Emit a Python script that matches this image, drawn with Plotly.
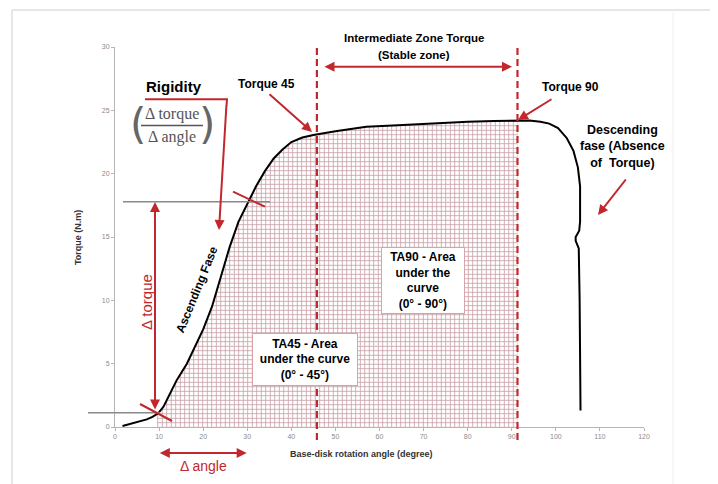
import numpy as np
import plotly.graph_objects as go

# ---- data ----
angle = [1.7, 4.0, 6.0, 7.2, 8.5, 9.8, 11.0, 12.5, 14.0, 16.3, 18.0, 20.0, 22.0, 24.0, 26.0, 28.0,
         30.0, 32.0, 34.0, 36.0, 38.0, 40.0, 42.5, 45.0, 50.0, 57.0, 63.0, 68.0, 74.0, 80.0, 86.0,
         91.0, 94.0, 96.5, 98.5, 100.5, 102.5, 104.0, 105.0, 105.5, 105.5, 105.3, 104.5, 104.5,
         105.2, 105.4, 105.5, 105.6]
torque = [0.08, 0.3, 0.5, 0.6, 0.8, 1.08, 1.6, 2.6, 3.7, 5.0, 6.3, 7.7, 9.5, 11.8, 14.2, 16.2,
          17.6, 19.0, 20.2, 21.2, 21.9, 22.5, 22.85, 23.05, 23.35, 23.7, 23.8, 23.9, 24.0, 24.1, 24.15,
          24.2, 24.2, 24.1, 23.95, 23.6, 22.8, 21.8, 20.5, 19.0, 16.2, 15.5, 15.0, 14.7,
          14.1, 10.0, 5.0, 1.3]

x_ticks = [0, 10, 20, 30, 40, 50, 60, 70, 80, 90, 100, 110, 120]
y_ticks = [0, 5, 10, 15, 20, 25, 30]

torque45_angle = 45.8
torque90_angle = 91.3
hatch_start = 9.5

RED = "#c0282d"
HATCH = "#8e3f4b"
FONT = "Liberation Sans"

OFF = 8  # default page margin of the html body
W, H = 718 - OFF, 484 - OFF
L, T = 115 - OFF, 47 - OFF
PW, PH = 529, 380
R, B = W - L - PW, H - T - PH


def xp(px):  # page pixel -> paper
    return (px - OFF - L) / PW


def yp(py):
    return (H - B - (py - OFF)) / PH


fig = go.Figure()

# hatched area under the curve (0 - 90 deg)
a = np.array(angle)
t = np.array(torque)
rising = a <= 95
ar, tr = a[rising], t[rising]
mask = (ar > hatch_start) & (ar < torque90_angle)
fx = [hatch_start] + list(ar[mask]) + [torque90_angle]
fy = [float(np.interp(hatch_start, ar, tr))] + list(tr[mask]) + [float(np.interp(torque90_angle, ar, tr))]
fig.add_trace(go.Scatter(
    x=fx, y=fy, mode="lines", line=dict(width=0), fill="tozeroy",
    fillcolor="rgba(0,0,0,0)",
    fillpattern=dict(shape="+", fgcolor=HATCH, bgcolor="white", size=4.5, solidity=0.33),
    hoverinfo="skip", showlegend=False))

# main torque curve
fig.add_trace(go.Scatter(x=angle, y=torque, mode="lines",
                         line=dict(color="black", width=2), showlegend=False))

shapes = []
for xv in (torque45_angle, torque90_angle):
    shapes.append(dict(type="line", xref="x", yref="paper", x0=xv, x1=xv,
                       y0=yp(440), y1=yp(44), line=dict(color=RED, width=2.2, dash="7px,4px")))
# frame
shapes.append(dict(type="rect", xref="paper", yref="paper", x0=xp(12), x1=xp(712),
                   y0=yp(500), y1=yp(10), line=dict(color="#cfcfcf", width=1), layer="below"))
shapes.append(dict(type="line", xref="paper", yref="paper", x0=xp(673), x1=xp(673),
                   y0=yp(500), y1=yp(10), line=dict(color="#f0f0f0", width=1), layer="below"))
# gray reference lines
shapes.append(dict(type="line", xref="paper", yref="paper", x0=xp(123), x1=xp(270),
                   y0=yp(201.7), y1=yp(201.7), line=dict(color="#8a8a8a", width=1.5)))
shapes.append(dict(type="line", xref="paper", yref="paper", x0=xp(88), x1=xp(160),
                   y0=yp(412.7), y1=yp(412.7), line=dict(color="#8a8a8a", width=1.5)))
# red tick marks across the curve
shapes.append(dict(type="line", xref="paper", yref="paper", x0=xp(233), x1=xp(265),
                   y0=yp(191.7), y1=yp(206.7), line=dict(color=RED, width=2)))
shapes.append(dict(type="line", xref="paper", yref="paper", x0=xp(140), x1=xp(172),
                   y0=yp(404), y1=yp(421), line=dict(color=RED, width=2)))
# rigidity underline + corner
shapes.append(dict(type="path", xref="paper", yref="paper",
                   path=f"M {xp(145)} {yp(99.3)} L {xp(227)} {yp(99.3)} L {xp(226.5)} {yp(106)}",
                   line=dict(color=RED, width=2)))
# fraction bar
shapes.append(dict(type="line", xref="paper", yref="paper", x0=xp(141), x1=xp(203),
                   y0=yp(125.5), y1=yp(125.5), line=dict(color="#555555", width=1.3)))

ann = []


def text(px, py, s, size=12, color="black", bold=True, angle=0, family=FONT, **kw):
    ann.append(dict(xref="paper", yref="paper", x=xp(px), y=yp(py), text=(f"<b>{s}</b>" if bold else s),
                    showarrow=False, xanchor="center", yanchor="middle", textangle=angle,
                    font=dict(family=family, size=size, color=color), **kw))


def arrow(x1, y1, x0, y0, both=False, width=2):
    ann.append(dict(xref="paper", yref="paper", x=xp(x1), y=yp(y1), ax=x0 - x1, ay=y0 - y1,
                    axref="pixel", ayref="pixel", text="", showarrow=True,
                    arrowhead=2, arrowsize=1, arrowwidth=width, arrowcolor=RED,
                    arrowside="end+start" if both else "end", standoff=0, startstandoff=0))


text(414, 38.5, "Intermediate Zone Torque", size=11.5)
text(414, 55, "(Stable zone)", size=11.5)
arrow(512, 66.7, 323, 66.7, both=True)

text(266, 83.5, "Torque 45", size=12)
arrow(312, 132, 268, 93)

text(570, 86.7, "Torque 90", size=12)
arrow(518, 120, 553, 98.3)

text(622, 146.7, "Descending<br>fase (Absence<br>of  Torque)", size=12.5)
arrow(598, 215, 627, 178)

text(174, 86.7, "Rigidity", size=15)
text(172, 114, "Δ torque", size=16, color="#555555", bold=False, family="Liberation Serif")
text(172, 137, "Δ angle", size=16, color="#555555", bold=False, family="Liberation Serif")
text(137.5, 125, "(", size=42, color="#666666", bold=False, family="DejaVu Sans")
text(207, 125, ")", size=42, color="#666666", bold=False, family="DejaVu Sans")
arrow(219, 230, 226.5, 104)

arrow(155, 202, 155, 411, both=True)
text(146, 302, "Δ torque", size=15, color=RED, bold=False, angle=-90)
arrow(246.7, 453, 158.3, 453, both=True)
text(203, 466, "Δ angle", size=14, color=RED, bold=False)

text(196.7, 290, "Ascending Fase", size=12, angle=-68)

ann.append(dict(xref="paper", yref="paper", x=xp(251.7), y=yp(386), showarrow=False,
                text="<b>TA45 - Area<br>under the curve<br>(0° - 45°)</b>",
                font=dict(family=FONT, size=12, color="black"), bgcolor="white",
                bordercolor="#d8a3a8", borderwidth=1, borderpad=2, width=100, height=47))
ann.append(dict(xref="paper", yref="paper", x=xp(423), y=yp(280.5), showarrow=False,
                text="<b>TA90 - Area<br>under the<br>curve<br>(0° - 90°)</b>",
                font=dict(family=FONT, size=12, color="black"), bgcolor="white",
                bordercolor="#d8a3a8", borderwidth=1, borderpad=2, width=78, height=61))

text(361, 454, "Base-disk rotation angle (degree)", size=9, color="#333333")
text(78, 238, "Torque (N.m)", size=9, color="#333333", angle=-90)

fig.update_layout(
    width=W, height=H, margin=dict(l=L, r=R, t=T, b=B, pad=0),
    paper_bgcolor="white", plot_bgcolor="white", showlegend=False,
    shapes=shapes, annotations=ann,
    font=dict(family=FONT),
)
axis_common = dict(showgrid=False, zeroline=False, showline=True, linecolor="#b5b5b5", linewidth=1,
                   ticks="outside", ticklen=3, tickcolor="#b5b5b5",
                   tickfont=dict(size=7, color="#8a8a8a", family=FONT))
fig.update_xaxes(range=[0, 120], tickvals=x_ticks, ticktext=[str(v) for v in x_ticks], **axis_common)
fig.update_yaxes(range=[0, 30], tickvals=y_ticks, ticktext=[str(v) for v in y_ticks], **axis_common)

fig.write_html("out.html")
